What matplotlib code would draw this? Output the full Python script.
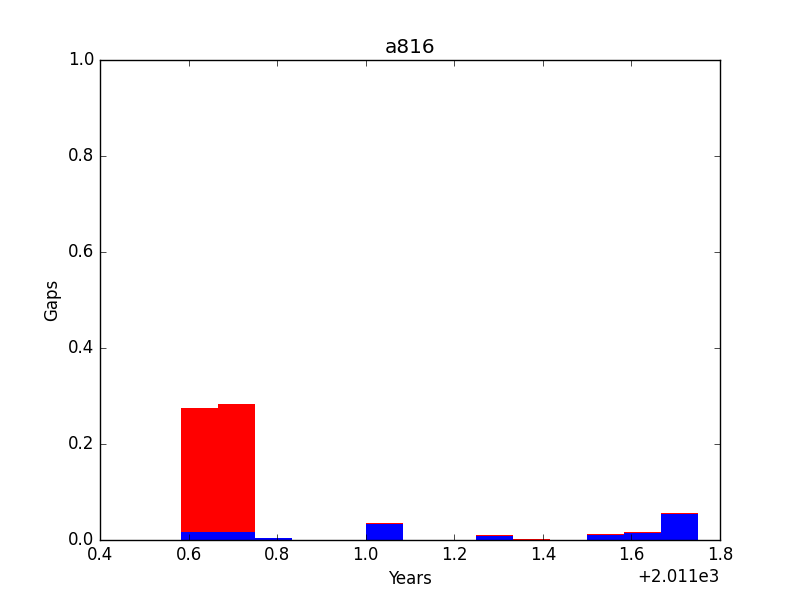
import numpy as np
import matplotlib as mpl
mpl.use('Agg')
import matplotlib.pyplot as plt

plt.style.use('classic')
mpl.rcParams['figure.facecolor'] = 'white'
mpl.rcParams['savefig.facecolor'] = 'white'

# monthly bins (start of month, decimal year)
month_start = [2011 + 7/12., 2011 + 8/12., 2011 + 9/12., 2011 + 12/12.,
               2011 + 15/12., 2011 + 16/12., 2011 + 18/12., 2011 + 19/12.,
               2011 + 20/12.]
# gap fraction, all gaps (red) and long gaps only (blue)
gaps_all = [0.2757, 0.283, 0.004, 0.0354, 0.011, 0.002, 0.013, 0.0174, 0.057]
gaps_sub = [0.0174, 0.0174, 0.004, 0.033, 0.009, 0.0, 0.011, 0.015, 0.055]

fig = plt.figure(figsize=(8, 6), dpi=100)
ax = fig.add_subplot(111)
ax.bar(month_start, gaps_all, width=1/12., align='edge', color='r', linewidth=0)
ax.bar(month_start, gaps_sub, width=1/12., align='edge', color='b', linewidth=0)
ax.set_xlim(2011.4, 2012.8)
ax.set_ylim(0, 1)
ax.xaxis.get_major_formatter().set_useOffset(2011)
ax.set_xlabel('Years')
ax.set_ylabel('Gaps')
ax.set_title('a816')
fig.savefig('out.png', dpi=100)
